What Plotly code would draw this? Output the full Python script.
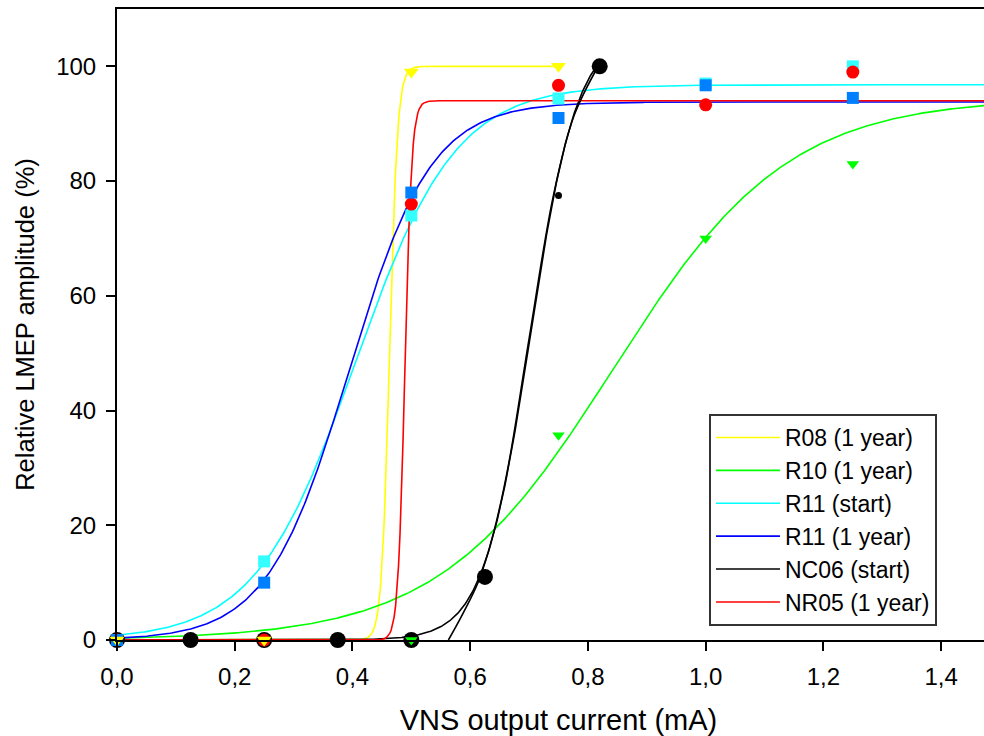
import numpy as np
import plotly.graph_objects as go

r08_x = [0.0, 0.25, 0.5, 0.75]
r08_y = [0.0, 0.0, 99.0, 100.0]

r10_x = [0.0, 0.25, 0.5, 0.75, 1.0, 1.25]
r10_y = [0.0, 0.0, 0.0, 35.7, 70.0, 83.0]

r11s_x = [0.0, 0.25, 0.5, 0.75, 1.0, 1.25]
r11s_y = [0.0, 13.7, 74.0, 94.4, 97.0, 100.0]

r11y_x = [0.0, 0.25, 0.5, 0.75, 1.0, 1.25]
r11y_y = [0.0, 10.0, 78.0, 91.0, 96.7, 94.5]

nc06_x = [0.0, 0.125, 0.25, 0.375, 0.5, 0.625, 0.82]
nc06_y = [0.0, 0.0, 0.0, 0.0, 0.0, 11.0, 100.0]

nc06b_x = [0.75]
nc06b_y = [77.5]

nr05_x = [0.0, 0.25, 0.5, 0.75, 1.0, 1.25]
nr05_y = [0.0, 0.0, 76.0, 96.7, 93.3, 99.0]

# ---- sigmoid fit parameters (top, midpoint, slope, x-extent) ----
fit_names = ["R08 (1 year)", "R10 (1 year)", "R11 (start)", "R11 (1 year)", "NC06 (start)", "NR05 (1 year)"]
fit_colors = ["#FFFF00", "#00FF00", "#00FFFF", "#0000FF", "#000000", "#FF0000"]
fit_top = [100.0, 94.5, 96.8, 93.8, 106.0, 94.0]
fit_mid = [0.463, 0.843, 0.405, 0.394, 0.702, 0.489]
fit_slope = [0.0068, 0.148, 0.085, 0.0696, 0.040, 0.00585]
fit_xmax = [0.75, 1.5, 1.5, 1.5, 0.82, 1.5]

# second black fit line
nc06_fit2_x = [0.563, 0.588, 0.614, 0.640, 0.665, 0.700, 0.741, 0.776, 0.820]
nc06_fit2_y = [0.0, 4.7, 10.2, 18.8, 30.5, 52.5, 77.3, 91.3, 100.5]

x_ticks = [0.0, 0.2, 0.4, 0.6, 0.8, 1.0, 1.2, 1.4]
y_ticks = [0, 20, 40, 60, 80, 100]

FONT = "Arial, Liberation Sans, sans-serif"

fig = go.Figure()

# fit curves (legend entries)
for name, col, top, mid, slope, xmax in zip(fit_names, fit_colors, fit_top, fit_mid, fit_slope, fit_xmax):
    xs = np.linspace(0.0, xmax, 600)
    ys = top / (1.0 + np.exp(-(xs - mid) / slope))
    fig.add_trace(go.Scatter(x=xs, y=ys, mode="lines", name=name,
                             line=dict(color=col, width=1.6), showlegend=True))

fig.add_trace(go.Scatter(x=nc06_fit2_x, y=nc06_fit2_y, mode="lines",
                         line=dict(color="#000000", width=1.6, shape="spline"),
                         showlegend=False))

# data markers
def markers(x, y, sym, col, size):
    fig.add_trace(go.Scatter(x=x, y=y, mode="markers", showlegend=False,
                             cliponaxis=False,
                             marker=dict(symbol=sym, color=col, size=size, line=dict(width=0))))

markers(nc06_x, nc06_y, "circle", "#000000", 16)
markers(nc06b_x, nc06b_y, "circle", "#000000", 7)
markers(r11s_x, r11s_y, "square", "#33FFFF", 12)
markers(nr05_x, nr05_y, "circle", "#FF0000", 13)
markers(r11y_x, r11y_y, "square", "#0080FF", 12)
markers(r10_x, r10_y, "triangle-down", "#00FF00", 11)
markers(r08_x, r08_y, "triangle-down", "#FFFF00", 13)

# the chart's x axis runs to 1.5 and is cut by the right edge of the window
fig.update_layout(
    width=1000, height=736,
    margin=dict(l=117, r=0, t=9, b=96),
    paper_bgcolor="white", plot_bgcolor="white",
    separators=", ",
    font=dict(family=FONT, size=24, color="black"),
    showlegend=True,
    legend=dict(x=0.6704, y=0.3582, xanchor="left", yanchor="top",
                bgcolor="white", bordercolor="#333333", borderwidth=2,
                font=dict(family=FONT, size=23, color="black"),
                itemwidth=64),
)
fig.update_xaxes(range=[0, 1.5], tickvals=x_ticks, tickformat=".1f",
                 showgrid=False, zeroline=False, automargin=False,
                 showline=True, linecolor="black", linewidth=2, mirror=True,
                 ticks="outside", ticklen=9, tickwidth=2, tickcolor="black",
                 ticklabelstandoff=5,
                 tickfont=dict(family=FONT, size=24),
                 title=dict(text="VNS output current (mA)", font=dict(family=FONT, size=29), standoff=22))
fig.update_yaxes(range=[0, 110], tickvals=y_ticks,
                 showgrid=False, zeroline=False, automargin=False,
                 showline=True, linecolor="black", linewidth=2,
                 ticks="outside", ticklen=9, tickwidth=2, tickcolor="black",
                 ticklabelstandoff=5,
                 tickfont=dict(family=FONT, size=24),
                 title=dict(text="Relative LMEP amplitude (%)", font=dict(family=FONT, size=25.5), standoff=14))

page_css = ("document.documentElement.style.overflow='hidden';"
            "document.body.style.margin='0';"
            "document.body.style.overflow='hidden';")
fig.write_html("out.html", post_script=page_css, config={"displayModeBar": False})
